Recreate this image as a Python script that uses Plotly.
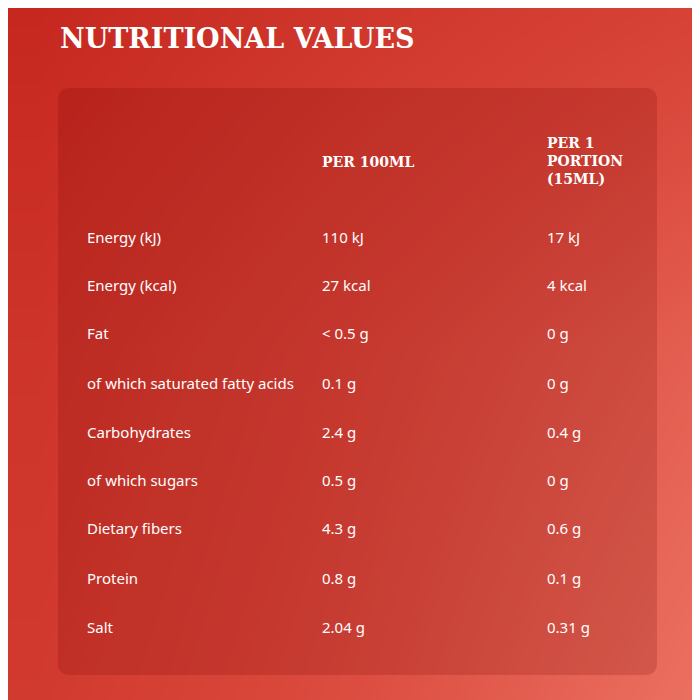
import plotly.graph_objects as go

nutrients = ["Energy (kJ)", "Energy (kcal)", "Fat", "of which saturated fatty acids",
             "Carbohydrates", "of which sugars", "Dietary fibers", "Protein", "Salt"]
per_100ml = ["110 kJ", "27 kcal", "< 0.5 g", "0.1 g", "2.4 g", "0.5 g", "4.3 g", "0.8 g", "2.04 g"]
per_portion = ["17 kJ", "4 kcal", "0 g", "0 g", "0.4 g", "0 g", "0.6 g", "0.1 g", "0.31 g"]
headers = ["", "PER 100ML", "PER 1<br>PORTION<br>(15ML)"]

fig = go.Figure()

# gradient panel behind everything (styling only)
fig.add_trace(go.Heatmap(
    x=[38, 370, 710], y=[12, 350, 710],
    z=[[0, 0.25, 0.45], [0.2, 0.5, 0.8], [0.3, 0.6, 1.0]],
    colorscale=[[0, "#c6281f"], [0.5, "#d9463a"], [1, "#ec7262"]],
    zsmooth="best", showscale=False, hoverinfo="skip"))

# inner darker rounded box
r = 12
x0, y0, x1, y1 = 58, 88, 657, 675
fig.add_shape(type="path", layer="above",
              path=f"M{x0+r},{y0} L{x1-r},{y0} Q{x1},{y0} {x1},{y0+r} L{x1},{y1-r} Q{x1},{y1} {x1-r},{y1} "
                   f"L{x0+r},{y1} Q{x0},{y1} {x0},{y1-r} L{x0},{y0+r} Q{x0},{y0} {x0+r},{y0} Z",
              fillcolor="rgba(110,0,0,0.18)", line_width=0)

fig.add_annotation(x=58, y=38, text="<b>NUTRITIONAL VALUES</b>", showarrow=False,
                   xanchor="left", yanchor="middle",
                   font=dict(family="DejaVu Serif", size=27, color="white"))

hdr_font = dict(family="DejaVu Serif", size=14, color="white")
fig.add_annotation(x=320, y=162, text=f"<b>{headers[1]}</b>", showarrow=False,
                   xanchor="left", yanchor="middle", font=hdr_font)
fig.add_annotation(x=545, y=161, text=f"<b>{headers[2]}</b>", showarrow=False,
                   xanchor="left", yanchor="middle", align="left", font=hdr_font)

row_y = [237, 285, 333, 383, 432, 480, 528, 578, 627]
cell_font = dict(family="Noto Sans", size=15, color="white")
for y, a, b, c in zip(row_y, nutrients, per_100ml, per_portion):
    for x, t in [(85, a), (320, b), (545, c)]:
        fig.add_annotation(x=x, y=y, text=t, showarrow=False,
                           xanchor="left", yanchor="middle", font=cell_font)

# page body has an 8px margin, so shift the view to compensate
fig.update_layout(width=700, height=700, margin=dict(l=0, r=0, t=0, b=0),
                  plot_bgcolor="#d22f23", paper_bgcolor="#d22f23",
                  xaxis=dict(range=[8, 708], visible=False, fixedrange=True),
                  yaxis=dict(range=[708, 8], visible=False, fixedrange=True))

fig.write_html("out.html")
